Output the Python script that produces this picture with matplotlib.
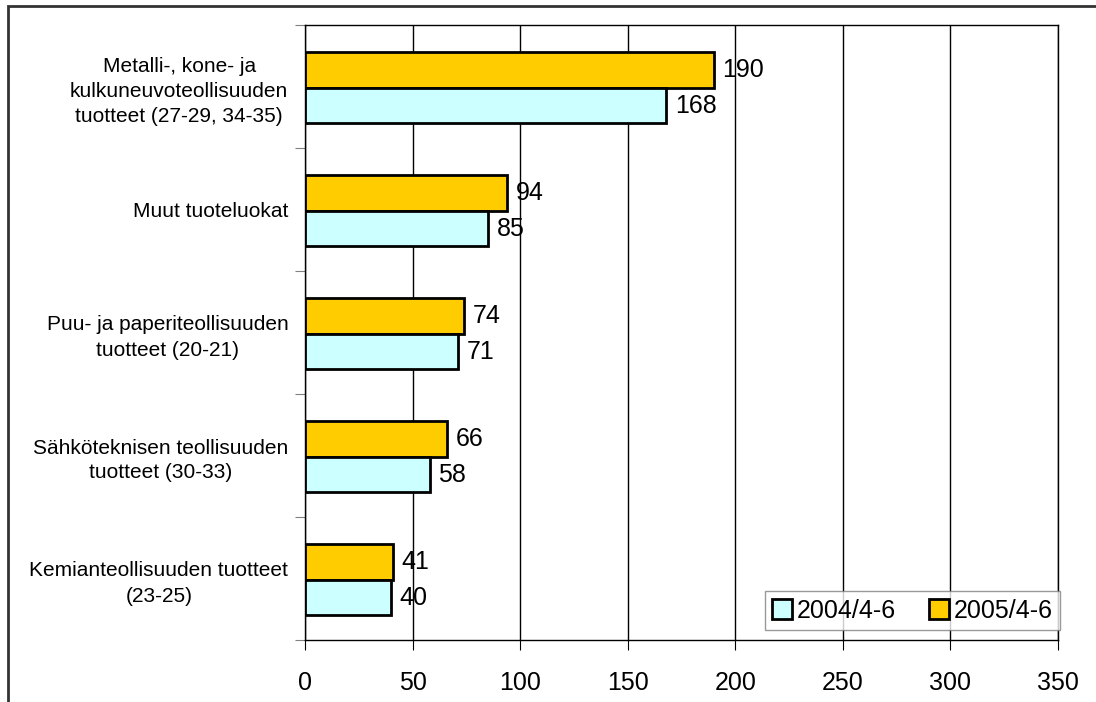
import matplotlib.pyplot as plt
import matplotlib.patches as mpatches
import numpy as np

plt.rcParams['font.family'] = ['Liberation Sans', 'DejaVu Sans']

categories = [
    "Metalli-, kone- ja\nkulkuneuvoteollisuuden\ntuotteet (27-29, 34-35)",
    "Muut tuoteluokat",
    "Puu- ja paperiteollisuuden\ntuotteet (20-21)",
    "Sähköteknisen teollisuuden\ntuotteet (30-33)",
    "Kemianteollisuuden tuotteet\n(23-25)",
]
values_2004 = [168, 85, 71, 58, 40]
values_2005 = [190, 94, 74, 66, 41]
series_labels = ["2004/4-6", "2005/4-6"]
x_ticks = [0, 50, 100, 150, 200, 250, 300, 350]

color_2004 = "#CCFFFF"
color_2005 = "#FFCC00"

fig = plt.figure(figsize=(10.96, 7.02), dpi=100)
ax = fig.add_axes([305 / 1096, 62 / 702, 753 / 1096, 615 / 702])

centers = np.arange(len(categories)) + 0.51
h = 0.29
b05 = ax.barh(centers - h / 2, values_2005, height=h, color=color_2005,
              edgecolor="black", linewidth=2, zorder=3, label=series_labels[1])
b04 = ax.barh(centers + h / 2, values_2004, height=h, color=color_2004,
              edgecolor="black", linewidth=2, zorder=3, label=series_labels[0])

for yc, v in zip(centers - h / 2, values_2005):
    ax.text(v + 4, yc, str(v), va="center", ha="left", fontsize=18, zorder=0.3)
for yc, v in zip(centers + h / 2, values_2004):
    ax.text(v + 4, yc, str(v), va="center", ha="left", fontsize=18, zorder=0.3)

ax.set_xlim(0, 350)
ax.set_ylim(5, 0)
ax.set_xticks(x_ticks)
ax.tick_params(axis="x", labelsize=18, length=7, direction="out", pad=15)
ax.xaxis.grid(True, color="black", linewidth=1)
ax.set_axisbelow(True)

ax.set_yticks(np.arange(0, 6))
ax.set_yticklabels([])
ax.tick_params(axis="y", which="major", length=7, color="gray")
ax.set_yticks(np.arange(len(categories)) + 0.5, minor=True)
ax.set_yticklabels(categories, minor=True, linespacing=1.4,
                   multialignment="center")
ax.tick_params(axis="y", which="minor", length=0, pad=12, labelsize=15)

for s in ax.spines.values():
    s.set_color("black")
    s.set_linewidth(1)

handles = [b04, b05]
leg = ax.legend(handles, series_labels, loc="lower right", ncol=2, fontsize=18,
                bbox_to_anchor=(1.003, 0.016),
                frameon=True, fancybox=False, edgecolor="gray",
                handlelength=0.8, handleheight=0.8, handletextpad=0.2,
                columnspacing=1.3, borderpad=0.3, borderaxespad=0)
leg.get_frame().set_linewidth(1)

border = mpatches.Rectangle((8 / 1096, -0.05), 1.1, (702 - 6) / 702 + 0.05,
                            transform=fig.transFigure, fill=False,
                            edgecolor="#333333", linewidth=2, clip_on=False)
fig.patches.append(border)

fig.savefig("out.png", dpi=100)
